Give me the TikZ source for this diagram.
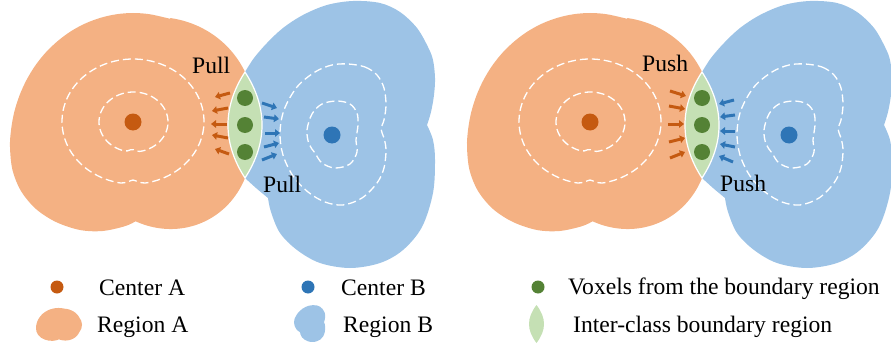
\documentclass[tikz,border=0pt]{standalone}
\usepackage{fontspec}
\setmainfont{Liberation Serif}
\usetikzlibrary{arrows.meta}
\definecolor{orA}{HTML}{F4B183}
\definecolor{orD}{HTML}{C55A11}
\definecolor{blA}{HTML}{9DC3E6}
\definecolor{blD}{HTML}{2E75B6}
\definecolor{grL}{HTML}{C5E0B4}
\definecolor{grD}{HTML}{548235}
\tikzset{
  dotc/.style={circle, inner sep=0pt, minimum size=#1},
  contour/.style={draw=white, dash pattern=on 8pt off 4pt, line width=1.3pt},
  arr/.style={line width=3pt, -{Triangle[length=5pt,width=7.5pt]}},
  lbl/.style={font=\fontsize{23.6}{27}\selectfont, inner sep=0pt, anchor=base west},
  regA/.pic={\fill[orA] (245,72)
     -- plot[domain=329:273, samples=30] ({165+(93.3+(329-\x)*0.157)*cos(\x)}, {120+(93.3+(329-\x)*0.157)*sin(\x)})
     -- plot[smooth,tension=0.55] coordinates {(170,18.8) (150.1,14.3) (133,13) (116.9,14.2) (101.2,17.6) (85.9,23.2) (71.5,30.9) (58.1,40.7) (46,52.2) (35.4,65.4) (26.5,80) (19.4,95.7) (14.2,112.3) (11.1,129.5) (10,147) (12.5,170) (21,191) (36,209) (56,222) (80,230) (102.5,231) (124.6,226.3) (135.3,221.5)}
     -- plot[domain=110.4:28.9, samples=40] ({167+(89.1+(\x-28.9)*0.0331+4*sin((\x-28.9)*2.209))*cos(\x)}, {135+(89.1+(\x-28.9)*0.0331+4*sin((\x-28.9)*2.209))*sin(\x)})
     -- (245,178) .. controls (267.7,143) and (267.7,107) .. (245,72) -- cycle;},
  regB/.pic={\fill[blA] (245,178)
     -- plot[smooth,tension=0.5] coordinates {(245,178) (256,188) (268,198)}
     -- plot[smooth,tension=0.55] coordinates {(268,198) (271,212) (280,233) (297,250) (320,263) (350,268) (380,263) (403,250) (422,227) (433,193) (435,160) (433,140) (427,125)}
     -- plot[smooth,tension=0.55] coordinates {(427,125) (431,112) (434,95) (435,78) (433,60) (428,47) (417,28) (400,12) (380,3) (353,1) (327,5) (303,15) (283,28) (267,43) (254,58) (245,72)}
     .. controls (222.3,107) and (222.3,143) .. (245,178) -- cycle;}
}
\begin{document}
\begin{tikzpicture}[x=1pt,y=-1pt]
\useasboundingbox (0,0) rectangle (891,345);
% two panels
\foreach \dx/\nm in {0/L,457/R}{
\begin{scope}[shift={(\dx,0)}]
  \pic {regA};
  \pic {regB};
  % lens
  \fill[grL, draw=white, line width=1.2pt] (245,72) .. controls (267.7,107) and (267.7,143) .. (245,178) .. controls (222.3,143) and (222.3,107) .. (245,72) -- cycle;
  % contours A
  \draw[contour] plot[smooth cycle, domain=0:355, samples=72] ({133+71*cos(\x)}, {121.5+62.5*sin(\x)-4*exp(-((\x-90)/5)^2)});
  \draw[contour] plot[smooth cycle, domain=0:355, samples=72] ({133.5+34.5*cos(\x)}, {122+30*sin(\x)-2.5*exp(-((\x-92)/7)^2)});
  % contours B
  \draw[contour] plot[smooth cycle,tension=0.55] coordinates {(348,64) (365,67) (377,75) (384,88) (386,105) (384,120) (381,129) (384,138) (386,150) (384,168) (377,183) (362,198) (343,205) (325,202) (308,192) (293,176) (283,155) (280,133) (284,110) (297,87) (315,72) (332,65)};
  \draw[contour] plot[smooth cycle,tension=0.55] coordinates {(337,101) (350,104) (357,113) (358,125) (356,140) (357,152) (350,164) (335,168) (322,163) (315,153) (309,144) (307,130) (312,114) (322,104)};
  % centers and voxels
  \node[dotc=17pt, fill=orD] (cA\nm) at (133,122) {};
  \node[dotc=17pt, fill=blD] (cB\nm) at (332,135) {};
  \node[dotc=16pt, fill=grD] (v1\nm) at (245,98) {};
  \node[dotc=16pt, fill=grD] (v2\nm) at (245,125) {};
  \node[dotc=16pt, fill=grD] (v3\nm) at (245,152) {};
\end{scope}
}
% arrows left panel (pull)
\draw[arr, orD] (230,93) -- (215,97);
\draw[arr, orD] (228,108) -- (212,111);
\draw[arr, orD] (227,124) -- (211,124);
\draw[arr, orD] (228,138) -- (212,135);
\draw[arr, orD] (229,154) -- (215,149);
\draw[arr, blD] (262,103) -- (277,108);
\draw[arr, blD] (264,117) -- (279,119);
\draw[arr, blD] (265,133) -- (280,133);
\draw[arr, blD] (264,147) -- (279,143);
\draw[arr, blD] (262,160) -- (277,154);
% arrows right panel (push)
\draw[arr, orD] (670,91) -- (686,96);
\draw[arr, orD] (669,106) -- (685,109);
\draw[arr, orD] (668,124) -- (684,124);
\draw[arr, orD] (669,142) -- (685,138);
\draw[arr, orD] (670,158) -- (685,152);
\draw[arr, blD] (734,100) -- (719,104);
\draw[arr, blD] (735,115) -- (720,117);
\draw[arr, blD] (735,131) -- (720,131);
\draw[arr, blD] (735,147) -- (720,144);
\draw[arr, blD] (733,162) -- (719,156);
% labels
\node[lbl] (pull1) at (192,74) {Pull};
\node[lbl] (pull2) at (263,192) {Pull};
\node[lbl] (push1) at (642,71) {Push};
\node[lbl] (push2) at (720,191) {Push};
% legend
\node[dotc=13pt, fill=orD] (lgcA) at (57,287) {};
\node[lbl] (tcA) at (99,295) {Center A};
\node[dotc=13pt, fill=blD] (lgcB) at (308,287) {};
\node[lbl] (tcB) at (341,295) {Center B};
\node[dotc=13pt, fill=grD] (lgv) at (538,287) {};
\node[lbl] (tv) at (568,294) {Voxels from the boundary region};
\pic[shift={(34.2,306)}, xscale=0.1825, yscale=0.1507] {regA};
\node[lbl] (trA) at (97,332) {Region A};
\pic[shift={(259.7,305)}, xscale=0.1505, yscale=0.138] {regB};
\node[lbl] (trB) at (343,332) {Region B};
\fill[grL] (536.5,305) .. controls (546.5,318) and (546.5,330) .. (536.5,343) .. controls (526.5,330) and (526.5,318) .. (536.5,305) -- cycle;
\node[lbl] (tl) at (573,332) {Inter-class boundary region};
\end{tikzpicture}
\end{document}
